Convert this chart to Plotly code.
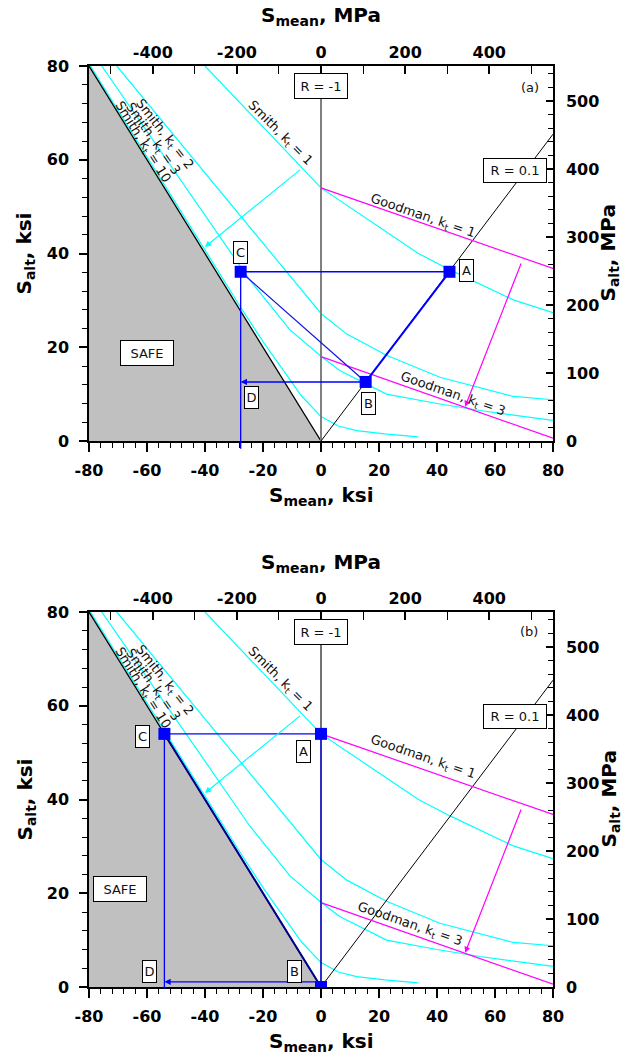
import plotly.graph_objects as go

KSI_MPA = 6.894757

# ---------------- tick labels ----------------
ksi_ticks = [-80, -60, -40, -20, 0, 20, 40, 60, 80]
ksi_tick_labels = ["-80", "-60", "-40", "-20", "0", "20", "40", "60", "80"]
salt_ticks = [0, 20, 40, 60, 80]
salt_tick_labels = ["0", "20", "40", "60", "80"]
mpa_x_ticks = [-400, -200, 0, 200, 400]
mpa_x_tick_labels = ["-400", "-200", "0", "200", "400"]
mpa_y_ticks = [0, 100, 200, 300, 400, 500]
mpa_y_tick_labels = ["0", "100", "200", "300", "400", "500"]

# ---------------- data (ksi) ----------------
safe_x = [-80, -80, 0]
safe_y = [0, 80, 0]
limit_x = [-80, 0]
limit_y = [80, 0]

r_neg1_x = [0, 0]
r_neg1_y = [0, 80]
r_01_x = [0, 80]
r_01_y = [0, 65.45]

smith_kt1_x = [-40, 0, 33.6, 44.5, 66.3, 80]
smith_kt1_y = [80, 54, 40.0, 36.5, 30.1, 27.4]
smith_kt2_x = [-70.4, -23.7, -10, 0, 8.9, 22.6, 41, 66.3, 80]
smith_kt2_y = [80, 45, 34.7, 27.2, 22.8, 18.3, 13.6, 9.5, 8.8]
smith_kt3_x = [-75.6, -36.6, -24.5, -10.7, 0, 6.6, 14.6, 22.6, 40, 54.8, 80]
smith_kt3_y = [80, 45, 34.3, 23.7, 18.1, 15.0, 12.5, 10.0, 8.0, 6.5, 4.4]
smith_kt10_x = [-79.5, -40, -28, -20, -14.7, -6.7, 0, 6, 12.3, 22, 33.5]
smith_kt10_y = [80, 40.6, 28.8, 21.2, 16.6, 9.6, 5.2, 3.2, 2.2, 1.5, 0.9]

goodman_kt1_x = [0, 80]
goodman_kt1_y = [54, 36.8]
goodman_kt3_x = [0, 80]
goodman_kt3_y = [18, 0.6]

# arrows: (tail x, tail y, head x, head y)
cyan_arrow = [-6.7, 58.1, -40.0, 41.4]
magenta_arrow = [69.2, 38.2, 49.7, 7.3]

# panel (a) points A, B, C
a_pts_x = [44.3, 15.4, -27.7]
a_pts_y = [36.1, 12.6, 36.1]
a_d_arrow_y = 12.6
# panel (b) points A, B, C
b_pts_x = [0, 0, -54]
b_pts_y = [54, 0, 54]
b_d_arrow_y = 1.1

CYAN = "#00ffff"
MAG = "#ff00ff"
BLUE = "#0000ff"
LBL_FONT = dict(family="DejaVu Sans", size=13, color="#111111")

fig = go.Figure()
annotations = []


def add_panel(xa, ya, pts_x, pts_y, d_y, rline_color, rline_width, variant):
    xr, yr = xa, ya
    fig.add_trace(go.Scatter(x=safe_x, y=safe_y, fill="toself", fillcolor="#c0c0c0",
                             line=dict(width=0), mode="lines", xaxis=xr, yaxis=yr,
                             hoverinfo="skip", showlegend=False))
    for cx, cy in [(smith_kt1_x, smith_kt1_y), (smith_kt2_x, smith_kt2_y),
                   (smith_kt3_x, smith_kt3_y), (smith_kt10_x, smith_kt10_y)]:
        fig.add_trace(go.Scatter(x=cx, y=cy, mode="lines", line=dict(color=CYAN, width=1.2),
                                 xaxis=xr, yaxis=yr, showlegend=False, hoverinfo="skip"))
    fig.add_trace(go.Scatter(x=limit_x, y=limit_y, mode="lines", line=dict(color="black", width=1.3),
                             xaxis=xr, yaxis=yr, showlegend=False, hoverinfo="skip"))
    fig.add_trace(go.Scatter(x=r_neg1_x, y=r_neg1_y, mode="lines",
                             line=dict(color=rline_color, width=rline_width),
                             xaxis=xr, yaxis=yr, showlegend=False, hoverinfo="skip"))
    fig.add_trace(go.Scatter(x=r_01_x, y=r_01_y, mode="lines", line=dict(color="black", width=1),
                             xaxis=xr, yaxis=yr, showlegend=False, hoverinfo="skip"))
    for gx, gy in [(goodman_kt1_x, goodman_kt1_y), (goodman_kt3_x, goodman_kt3_y)]:
        fig.add_trace(go.Scatter(x=gx, y=gy, mode="lines", line=dict(color=MAG, width=1.2),
                                 xaxis=xr, yaxis=yr, showlegend=False, hoverinfo="skip"))
    Ax, Bx, Cx = pts_x
    Ay, By, Cy = pts_y
    # C-A horizontal
    fig.add_trace(go.Scatter(x=[Cx, Ax], y=[Cy, Ay], mode="lines", line=dict(color=BLUE, width=1.4),
                             xaxis=xr, yaxis=yr, showlegend=False, hoverinfo="skip"))
    if variant == "a":
        fig.add_trace(go.Scatter(x=[Cx, Bx], y=[Cy, By], mode="lines", line=dict(color="#1010e0", width=1.2),
                                 xaxis=xr, yaxis=yr, showlegend=False, hoverinfo="skip"))
        fig.add_trace(go.Scatter(x=[Ax, Bx], y=[Ay, By], mode="lines", line=dict(color=BLUE, width=2),
                                 xaxis=xr, yaxis=yr, showlegend=False, hoverinfo="skip"))
    else:
        fig.add_trace(go.Scatter(x=[Cx, Bx], y=[Cy, By], mode="lines", line=dict(color="#000090", width=2),
                                 xaxis=xr, yaxis=yr, showlegend=False, hoverinfo="skip"))
        fig.add_trace(go.Scatter(x=[Ax, Bx], y=[Ay, By], mode="lines", line=dict(color=BLUE, width=1.2),
                                 xaxis=xr, yaxis=yr, showlegend=False, hoverinfo="skip"))
    fig.add_trace(go.Scatter(x=pts_x, y=pts_y, mode="markers",
                             marker=dict(symbol="square", size=12, color=BLUE, line=dict(width=0)),
                             xaxis=xr, yaxis=yr, showlegend=False, hoverinfo="skip"))

    xref = xr
    yref = yr
    # arrows
    for arr, col, w in [(cyan_arrow, CYAN, 1.2), (magenta_arrow, MAG, 1.2)]:
        annotations.append(dict(x=arr[2], y=arr[3], ax=arr[0], ay=arr[1], xref=xref, yref=yref,
                                axref=xref, ayref=yref, text="", showarrow=True, arrowhead=2,
                                arrowsize=1, arrowwidth=w, arrowcolor=col))
    # D arrow from B to D line
    annotations.append(dict(x=Cx, y=d_y, ax=Bx, ay=d_y, xref=xref, yref=yref, axref=xref, ayref=yref,
                            text="", showarrow=True, arrowhead=2, arrowsize=0.9, arrowwidth=1.4,
                            arrowcolor=BLUE))
    # vertical line at D (extends slightly below axis)
    annotations.append(dict(x=Cx, y=Cy, ax=Cx, ay=-2.0 if variant == "a" else -0.7, xref=xref, yref=yref,
                            axref=xref, ayref=yref, text="", showarrow=True, arrowhead=0,
                            arrowwidth=1.3, arrowcolor=BLUE, standoff=0, startstandoff=0))

    def box(txt, x, y, w, h, pad=2):
        annotations.append(dict(x=x, y=y, xref=xref, yref=yref, text=txt, showarrow=False,
                                font=LBL_FONT, bgcolor="white", bordercolor="black",
                                borderwidth=1, borderpad=pad, width=w, height=h))

    def lbl(txt, x, y, ang):
        annotations.append(dict(x=x, y=y, xref=xref, yref=yref, text=txt, showarrow=False,
                                font=LBL_FONT, textangle=ang))

    box("R = -1", 0, 75.7, 48, 20)
    box("R = 0.1", 67, 57.8, 58, 19)
    lbl("Smith, k<sub>t</sub> = 1", -14.0, 65.7, 45)
    lbl("Smith, k<sub>t</sub> = 2", -54.0, 65.4, 52)
    lbl("Smith, k<sub>t</sub> = 3", -58.0, 64.3, 55)
    lbl("Smith, k<sub>t</sub> = 10", -61.5, 63.7, 58)
    if variant == "a":
        annotations.append(dict(x=72, y=75.5, xref=xref, yref=yref, text="(a)", showarrow=False, font=LBL_FONT))
        box("SAFE", -60.1, 18.7, 48, 20)
        box("A", 50.2, 36.3, 9, 17)
        box("B", 16.3, 8.0, 9, 17)
        box("C", -27.7, 40.2, 9, 17)
        box("D", -23.9, 9.2, 9, 17)
        lbl("Goodman, k<sub>t</sub> = 1", 35.3, 48.0, 19)
        lbl("Goodman, k<sub>t</sub> = 3", 45.6, 10.0, 19)
    else:
        annotations.append(dict(x=71.8, y=75.8, xref=xref, yref=yref, text="(b)", showarrow=False, font=LBL_FONT))
        box("SAFE", -69.3, 21.0, 48, 20)
        box("A", -5.9, 50.2, 9, 17)
        box("B", -9.2, 3.3, 9, 17)
        box("C", -61.5, 53.5, 9, 17)
        box("D", -59.0, 3.3, 9, 17)
        lbl("Goodman, k<sub>t</sub> = 1", 35.3, 49.0, 19)
        lbl("Goodman, k<sub>t</sub> = 3", 30.7, 13.4, 19)


add_panel("x", "y", a_pts_x, a_pts_y, a_d_arrow_y, "#808080", 2, "a")
add_panel("x3", "y3", b_pts_x, b_pts_y, b_d_arrow_y, "black", 1.1, "b")

# dummy traces so secondary axes exist
for xa, ya in [("x2", "y2"), ("x4", "y4")]:
    fig.add_trace(go.Scatter(x=[0], y=[0], mode="markers", marker=dict(opacity=0), xaxis=xa, yaxis=ya,
                             showlegend=False, hoverinfo="skip"))

TICKFONT = dict(family="DejaVu Sans", size=16, color="black", weight="bold")
mpa_max = 80 * KSI_MPA

dom_a = [546 / 921, 1.0]
dom_b = [0.0, 375 / 921]


def xax(anchor):
    return dict(range=[-80, 80], tickvals=ksi_ticks, ticktext=ksi_tick_labels, ticks="outside",
                ticklen=9, tickwidth=1.5, tickcolor="black", showline=True, linecolor="black",
                linewidth=1.5, showgrid=False, zeroline=False, tickfont=TICKFONT, anchor=anchor,
                ticklabelstandoff=5,
                minor=dict(dtick=4, tick0=0, ticklen=5, tickwidth=1, tickcolor="black", ticks="outside",
                           showgrid=False))


def yax(anchor, dom):
    return dict(range=[0, 80], tickvals=salt_ticks, ticktext=salt_tick_labels, ticks="outside",
                ticklen=8, tickwidth=1.5, tickcolor="black", showline=True, linecolor="black",
                linewidth=1.5, showgrid=False, zeroline=False, tickfont=TICKFONT, anchor=anchor,
                domain=dom, ticklabelstandoff=7,
                minor=dict(dtick=4, tick0=0, ticklen=5, tickwidth=1, tickcolor="black", ticks="outside",
                           showgrid=False))


def xtop(over, anchor):
    return dict(range=[-mpa_max, mpa_max], tickvals=mpa_x_ticks, ticktext=mpa_x_tick_labels,
                ticks="inside", ticklen=8, tickwidth=1.5, tickcolor="black", showline=True,
                linecolor="black", linewidth=1.5, showgrid=False, zeroline=False, tickfont=TICKFONT,
                overlaying=over, anchor=anchor, side="top", ticklabelstandoff=0,
                minor=dict(dtick=100, tick0=0, ticklen=8, tickwidth=1, tickcolor="black", ticks="inside",
                           showgrid=False))


def yright(over, anchor):
    return dict(range=[0, mpa_max], tickvals=mpa_y_ticks, ticktext=mpa_y_tick_labels,
                ticks="inside", ticklen=7, tickwidth=1.5, tickcolor="black", showline=True,
                linecolor="black", linewidth=1.5, showgrid=False, zeroline=False, tickfont=TICKFONT,
                overlaying=over, anchor=anchor, side="right", ticklabelstandoff=8,
                minor=dict(dtick=20, tick0=0, ticklen=5, tickwidth=1, tickcolor="black", ticks="inside",
                           showgrid=False))


TITLEFONT = dict(family="DejaVu Sans", size=20, color="black")


def paper_y(py):
    return (987 - py) / 921


def paper_x(px):
    return (px - 89) / 464


for (cy_bot, cy_top, cy_mid) in [(496, 16, 253.5), (1042, 563, 799.5)]:
    annotations.append(dict(x=0.5, y=paper_y(cy_bot), xref="paper", yref="paper",
                            text="<b>S<sub>mean</sub>, ksi</b>", showarrow=False, font=TITLEFONT,
                            xanchor="center", yanchor="middle"))
    annotations.append(dict(x=0.5, y=paper_y(cy_top), xref="paper", yref="paper",
                            text="<b>S<sub>mean</sub>, MPa</b>", showarrow=False, font=TITLEFONT,
                            xanchor="center", yanchor="middle"))
    annotations.append(dict(x=paper_x(25), y=paper_y(cy_mid), xref="paper", yref="paper",
                            text="<b>S<sub>alt</sub>, ksi</b>", showarrow=False, font=TITLEFONT,
                            textangle=-90, xanchor="center", yanchor="middle"))
    annotations.append(dict(x=paper_x(609), y=paper_y(cy_mid), xref="paper", yref="paper",
                            text="<b>S<sub>alt</sub>, MPa</b>", showarrow=False, font=TITLEFONT,
                            textangle=-90, xanchor="center", yanchor="middle"))

fig.update_layout(
    width=634, height=1057,
    margin=dict(l=89, r=81, t=66, b=70),
    paper_bgcolor="white", plot_bgcolor="white",
    showlegend=False,
    xaxis=xax("y"), yaxis=yax("x", dom_a),
    xaxis2=xtop("x", "y"), yaxis2=yright("y", "x"),
    xaxis3=xax("y3"), yaxis3=yax("x3", dom_b),
    xaxis4=xtop("x3", "y3"), yaxis4=yright("y3", "x3"),
    annotations=annotations,
)

fig.write_html("out.html")
